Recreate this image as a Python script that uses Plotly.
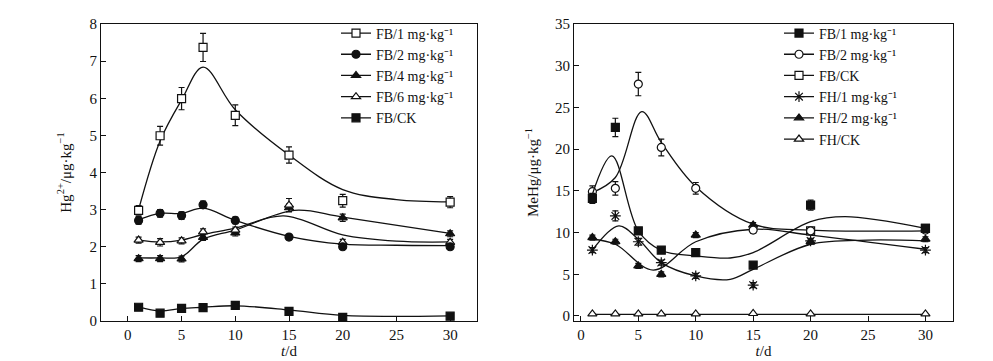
import plotly.graph_objects as go

# ---------------- data: left panel (Hg2+) ----------------
days = [1, 3, 5, 7, 10, 15, 20, 30]

hg_fb1 = [2.98, 4.99, 5.99, 7.37, 5.54, 4.47, 3.24, 3.20]
hg_fb1_err = [0.13, 0.25, 0.30, 0.38, 0.28, 0.22, 0.17, 0.15]
hg_fb2 = [2.71, 2.90, 2.84, 3.13, 2.71, 2.26, 2.00, 2.00]
hg_fb2_err = [0.10, 0.10, 0.10, 0.10, 0.09, 0.07, 0.06, 0.06]
hg_fb4 = [1.68, 1.68, 1.67, 2.25, 2.37, 3.05, 2.78, 2.35]
hg_fb4_err = [0.08, 0.08, 0.08, 0.08, 0.08, 0.10, 0.10, 0.08]
hg_fb6 = [2.18, 2.12, 2.16, 2.40, 2.45, 3.12, 2.12, 2.12]
hg_fb6_err = [0.08, 0.10, 0.08, 0.08, 0.08, 0.18, 0.08, 0.08]
hg_ck = [0.37, 0.21, 0.34, 0.36, 0.42, 0.26, 0.10, 0.13]

# smoothed curves
hg_fb1_fit_x = [1, 3, 5, 7, 10, 15, 20, 25, 30]
hg_fb1_fit = [3.0, 4.85, 5.95, 6.84, 5.69, 4.47, 3.54, 3.27, 3.21]
hg_fb2_fit_x = [1, 3, 5, 7, 10, 15, 20, 25, 30]
hg_fb2_fit = [2.73, 2.90, 2.90, 3.04, 2.71, 2.28, 2.07, 2.04, 2.03]
hg_fb4_fit_x = [1, 3, 5, 7, 10, 15.5, 20, 30]
hg_fb4_fit = [1.70, 1.70, 1.73, 2.20, 2.45, 2.98, 2.80, 2.36]
hg_fb6_fit_x = [1, 3, 5, 7, 10, 14.5, 20, 25, 30]
hg_fb6_fit = [2.18, 2.13, 2.18, 2.33, 2.50, 2.83, 2.32, 2.15, 2.13]
hg_ck_fit_x = [1, 3, 5, 7, 10, 15, 20, 30]
hg_ck_fit = [0.38, 0.27, 0.34, 0.37, 0.41, 0.30, 0.15, 0.14]

# ---------------- data: right panel (MeHg) ----------------
me_fb1 = [14.1, 22.6, 10.2, 7.9, 7.6, 6.1, 13.3, 10.5]
me_fb1_err = [0.6, 1.1, 0.4, 0.3, 0.3, 0.3, 0.6, 0.3]
me_fb2 = [14.9, 15.3, 27.8, 20.2, 15.3, 10.3, 10.2, 10.3]
me_fb2_err = [0.7, 0.8, 1.4, 1.0, 0.7, 0.4, 0.3, 0.3]
me_fbck = [None, None, None, None, None, None, 10.2, 10.5]
me_fbck_err = [0, 0, 0, 0, 0, 0, 0.4, 0.3]
me_fh1 = [7.9, 12.0, 8.9, 6.4, 4.8, 3.7, 9.0, 7.9]
me_fh1_err = [0.3, 0.6, 0.4, 0.3, 0.3, 0.3, 0.3, 0.3]
me_fh2 = [9.4, 8.9, 6.0, 5.0, 9.7, 10.9, 8.9, 9.2]
me_fh2_err = [0.3, 0.3, 0.3, 0.3, 0.3, 0.3, 0.3, 0.3]
me_fhck = [0.25, 0.25, 0.25, 0.25, 0.25, 0.30, 0.25, 0.25]

me_fb1_fit_x = [1, 2.7, 5, 7, 10, 13, 15, 20, 23, 30]
me_fb1_fit = [14.6, 19.2, 10.2, 7.85, 7.2, 6.95, 7.6, 11.3, 11.9, 10.5]
me_fb2_fit_x = [1, 3, 5.3, 7, 10, 15, 20, 30]
me_fb2_fit = [14.8, 16.6, 24.5, 20.8, 15.5, 11.0, 10.3, 10.2]
me_fh1_fit_x = [1, 3.3, 5, 7, 10, 13, 15, 20, 25, 30]
me_fh1_fit = [7.9, 10.8, 9.2, 6.4, 4.8, 4.4, 5.6, 8.6, 9.1, 9.0]
me_fh2_fit_x = [1, 3, 6.3, 10, 15, 20, 30]
me_fh2_fit = [9.2, 8.6, 5.5, 8.9, 10.4, 9.7, 8.0]
me_fhck_fit_x = [1, 30]
me_fhck_fit = [0.2, 0.2]

FONT = "Liberation Serif"
BLACK = "#111111"

fig = go.Figure()


def add_series(x, y, err, fx, fy, name, symbol, xa, ya, legend, open_marker, rank, size=8):
    mk = dict(symbol=symbol, size=size, color="white" if open_marker else BLACK,
              line=dict(color=BLACK, width=1.2))
    if fx is not None:
        fig.add_trace(go.Scatter(x=fx, y=fy, mode="lines",
                                 line=dict(color=BLACK, width=1.3, shape="spline", smoothing=1.0),
                                 xaxis=xa, yaxis=ya, showlegend=False, hoverinfo="skip"))
    fig.add_trace(go.Scatter(
        x=x, y=y, mode="markers", marker=mk, xaxis=xa, yaxis=ya, showlegend=False,
        error_y=dict(type="data", array=err, visible=err is not None, color=BLACK, thickness=1.2, width=3)))
    # legend entry
    fig.add_trace(go.Scatter(x=[None], y=[None], mode="lines+markers", name=name,
                             marker=mk, line=dict(color=BLACK, width=1.3),
                             xaxis=xa, yaxis=ya, legend=legend, legendrank=rank))


unit = " mg·kg⁻¹"
# left
add_series(days, hg_ck, None, hg_ck_fit_x, hg_ck_fit, "FB/CK", "square", "x", "y", "legend", False, 5)
add_series(days, hg_fb4, hg_fb4_err, hg_fb4_fit_x, hg_fb4_fit, "FB/4" + unit, "triangle-up", "x", "y", "legend", False, 3)
add_series(days, hg_fb6, hg_fb6_err, hg_fb6_fit_x, hg_fb6_fit, "FB/6" + unit, "triangle-up", "x", "y", "legend", True, 4)
add_series(days, hg_fb2, hg_fb2_err, hg_fb2_fit_x, hg_fb2_fit, "FB/2" + unit, "circle", "x", "y", "legend", False, 2)
add_series(days, hg_fb1, hg_fb1_err, hg_fb1_fit_x, hg_fb1_fit, "FB/1" + unit, "square", "x", "y", "legend", True, 1)

# right
add_series(days, me_fhck, None, me_fhck_fit_x, me_fhck_fit, "FH/CK", "triangle-up", "x2", "y2", "legend2", True, 6)
add_series(days, me_fh2, me_fh2_err, me_fh2_fit_x, me_fh2_fit, "FH/2" + unit, "triangle-up", "x2", "y2", "legend2", False, 5)
add_series(days, me_fh1, me_fh1_err, me_fh1_fit_x, me_fh1_fit, "FH/1" + unit, "asterisk-open", "x2", "y2", "legend2", False, 4, 9)
add_series(days, me_fbck, me_fbck_err, None, None, "FB/CK", "square", "x2", "y2", "legend2", True, 3)
add_series(days, me_fb2, me_fb2_err, me_fb2_fit_x, me_fb2_fit, "FB/2" + unit, "circle", "x2", "y2", "legend2", True, 2)
add_series(days, me_fb1, me_fb1_err, me_fb1_fit_x, me_fb1_fit, "FB/1" + unit, "square", "x2", "y2", "legend2", False, 1)

W, H = 993, 361
axis_common = dict(showline=True, mirror=True, linecolor=BLACK, linewidth=1.2, ticks="inside",
                   ticklen=5, tickcolor=BLACK, showgrid=False, zeroline=False,
                   tickfont=dict(family=FONT, size=15, color=BLACK))

leg_common = dict(font=dict(family=FONT, size=14, color=BLACK), bgcolor="rgba(0,0,0,0)",
                  traceorder="normal", tracegroupgap=0, itemwidth=30,
                  xanchor="left", yanchor="top", yref="paper", xref="paper")

fig.update_layout(
    width=W, height=H,
    margin=dict(l=0, r=0, t=16, b=48),
    paper_bgcolor="white", plot_bgcolor="white",
    font=dict(family=FONT, size=15, color=BLACK),
    xaxis=dict(domain=[93 / W, 469 / W], range=[-2.5, 32.5], tickvals=[0, 5, 10, 15, 20, 25, 30],
               title=dict(text="<i>t</i>/d", font=dict(family=FONT, size=15), standoff=0), anchor="y", **axis_common),
    yaxis=dict(domain=[0, 1], range=[0, 8], tickvals=[0, 1, 2, 3, 4, 5, 6, 7, 8],
               title=dict(text="Hg<sup>2+</sup>/μg·kg<sup>−1</sup>", font=dict(family=FONT, size=15), standoff=14),
               anchor="x", **axis_common),
    xaxis2=dict(domain=[566 / W, 945 / W], range=[-0.6, 32.4], tickvals=[0, 5, 10, 15, 20, 25, 30],
                title=dict(text="<i>t</i>/d", font=dict(family=FONT, size=15), standoff=0), anchor="y2", **axis_common),
    yaxis2=dict(domain=[0, 1], range=[-0.6, 35], tickvals=[0, 5, 10, 15, 20, 25, 30, 35],
                title=dict(text="MeHg/μg·kg<sup>−1</sup>", font=dict(family=FONT, size=15), standoff=12),
                anchor="x2", **axis_common),
    legend=dict(x=328 / W, y=1.022, **leg_common),
    legend2=dict(x=771 / W, y=1.022, **leg_common),
)

fig.write_html("out.html")
